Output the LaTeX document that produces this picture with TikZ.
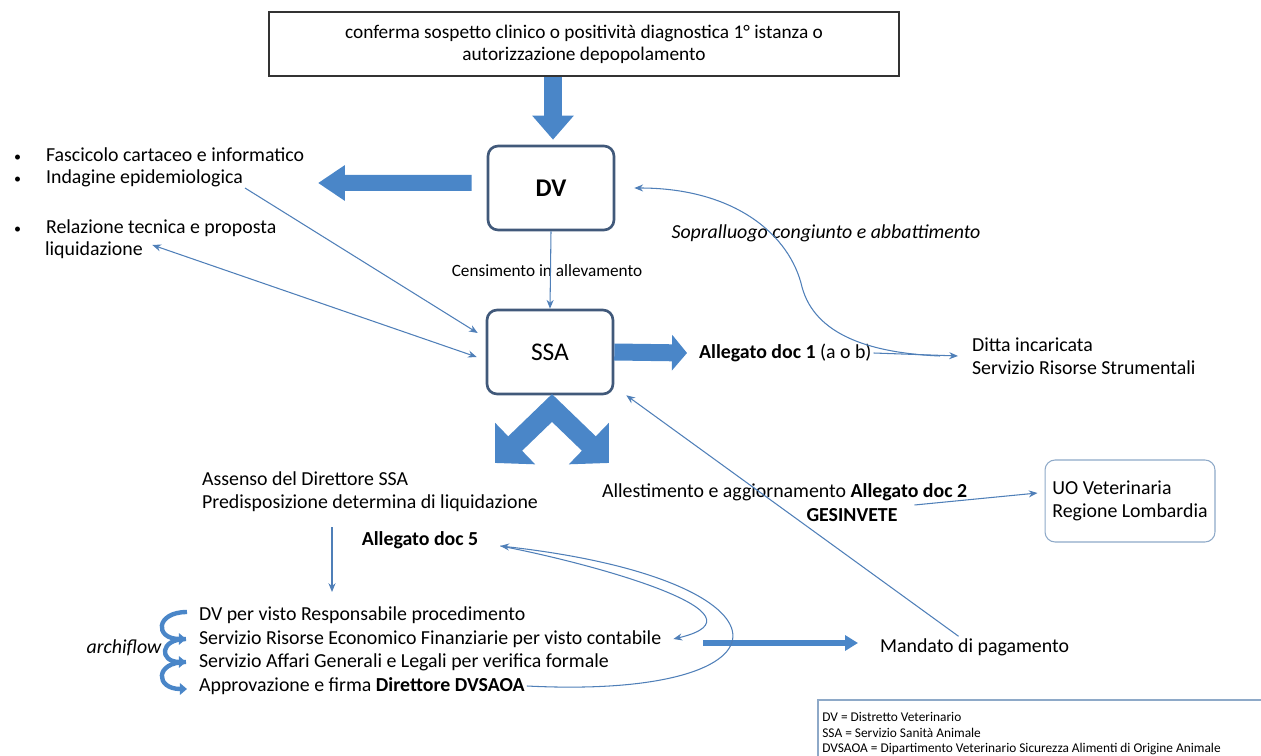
\documentclass[tikz,border=0pt]{standalone}
\usepackage{fontspec}
\setmainfont{Carlito}
\usepackage{xcolor}
\usetikzlibrary{arrows.meta}

\definecolor{flowblue}{HTML}{4A86C8}
\definecolor{linkblue}{HTML}{4F7FB8}
\definecolor{unitedge}{HTML}{41597A}
\definecolor{uoedge}{HTML}{8EA9C8}

\newcommand{\blt}{\makebox[0.64cm][l]{\footnotesize\textbullet}}

\begin{document}
\begin{tikzpicture}[x=0.02cm, y=-0.02cm,
    txt/.style={inner sep=1pt, font=\fontsize{11.3}{13}\selectfont},
    smalltxt/.style={inner sep=1pt, font=\fontsize{9.8}{11}\selectfont},
    legtxt/.style={inner sep=0pt, anchor=west, font=\fontsize{7.6}{8.5}\selectfont},
    unit/.style={draw=unitedge, line width=1.5pt, rounded corners=0.2cm, minimum width=2.52cm, minimum height=1.68cm, font=\fontsize{14.5}{16}\selectfont},
    bigarr/.style={draw=flowblue, line width=0.36cm, -{Triangle[length=0.48cm,width=0.8cm]}},
    diagarr/.style={draw=flowblue, line width=0.4cm, line join=miter, {Triangle[length=0.56cm,width=1.12cm]}-{Triangle[length=0.56cm,width=1.12cm]}},
    curl/.style={draw=flowblue, line width=2.5pt, -{Triangle[length=4pt,width=6.5pt]}},
    >={Stealth[length=5pt,width=4pt]},
    link/.style={draw=linkblue, line width=0.6pt}]
    \useasboundingbox (0,0) rectangle (1261,756);

    % Start and district
    \node (conf) [draw=black!80, line width=0.8pt, minimum width=12.6cm, minimum height=1.28cm, align=center, font=\fontsize{11}{12.5}\selectfont] at (584,44) {conferma sospetto clinico o positività diagnostica 1° istanza o\\autorizzazione depopolamento};
    \node (dv) [unit] at (551,188) {\textbf{DV}};
    \node (fasc) [txt, anchor=west] at (12,155) {\blt Fascicolo cartaceo e informatico};
    \node (indag) [txt, anchor=west] at (12,178) {\blt Indagine epidemiologica};
    \node (rel) [txt, anchor=west] at (12,228) {\blt Relazione tecnica e proposta};
    \node (liq) [txt, anchor=west] at (43,250) {liquidazione};
    \node (cens) [smalltxt] at (547,271) {Censimento in allevamento};
    \node (sopr) [txt, font=\fontsize{11.3}{13}\selectfont\itshape] at (826,233) {Sopralluogo congiunto e abbattimento};

    % Animal health service
    \node (ssa) [unit] at (550,352) {SSA};
    \node (doc1) [txt, anchor=west] at (697,353) {\textbf{Allegato doc 1} (a o b)};
    \node (ditta) [txt, anchor=west, align=left] at (970,356) {Ditta incaricata\\Servizio Risorse Strumentali};
    \node (assenso) [txt, anchor=west, align=left] at (200,492) {Assenso del Direttore SSA\\Predisposizione determina di liquidazione};
    \node (doc5) [txt] at (420,540) {\textbf{Allegato doc 5}};
    \node (allest) [txt, anchor=west] at (600,492) {Allestimento e aggiornamento \textbf{Allegato doc 2}};
    \node (gesin) [txt] at (852,515) {\textbf{GESINVETE}};
    \node (uo) [draw=uoedge, line width=0.6pt, rounded corners=0.2cm, minimum width=3.4cm, minimum height=1.64cm, align=left, font=\fontsize{11.3}{13}\selectfont] at (1130,501) {UO Veterinaria\\Regione Lombardia};

    % Archiflow
    \node (l1) [txt, anchor=west] at (197,615) {DV per visto Responsabile procedimento};
    \node (l2) [txt, anchor=west] at (197,639) {Servizio Risorse Economico Finanziarie per visto contabile};
    \node (l3) [txt, anchor=west] at (197,662) {Servizio Affari Generali e Legali per verifica formale};
    \node (l4) [txt, anchor=west] at (197,686) {Approvazione e firma \textbf{Direttore DVSAOA}};
    \node (archi) [txt, font=\fontsize{11.3}{13}\selectfont\itshape] at (124,648) {archiflow};
    \node (mand) [txt, anchor=west] at (878,647) {Mandato di pagamento};

    % Legend
    \draw[draw=uoedge, line width=0.6pt] (818,756) -- (818,700) -- (1261,700);
    \node (lg1) [legtxt] at (822,717) {DV = Distretto Veterinario};
    \node (lg2) [legtxt] at (822,733) {SSA = Servizio Sanità Animale};
    \node (lg3) [legtxt] at (822,749) {DVSAOA = Dipartimento Veterinario Sicurezza Alimenti di Origine Animale};

    % Block arrows
    \coordinate (leftend) at (318,183);
    \coordinate (apex) at (552,408);
    \coordinate (tipl) at (495,463);
    \coordinate (tipr) at (609,463);
    \draw[bigarr] ([xshift=0.04cm]dv.north |- conf.south) -- ([xshift=0.04cm,yshift=0.1cm]dv.north);
    \draw[bigarr, line width=0.32cm, -{Triangle[length=0.54cm,width=0.68cm]}] ([xshift=-0.3cm,yshift=0.1cm]dv.west) -- (leftend);
    \draw[bigarr, line width=0.34cm, -{Triangle[length=0.3cm,width=0.7cm]}] (ssa.east) -- ([xshift=-0.2cm]doc1.west);
    \draw[diagarr] (tipl) -- (apex) -- (tipr);
    \draw[bigarr, line width=0.14cm, -{Triangle[length=0.26cm,width=0.3cm]}] ([xshift=0.8cm,yshift=-0.08cm]l2.east) -- ([xshift=-0.4cm,yshift=-0.08cm]mand.west |- l2.east);

    % Archiflow curls
    \draw[curl] ([xshift=-0.2cm,yshift=0.06cm]l1.west) to[out=180, in=180, looseness=3] ([xshift=-0.22cm]l2.west);
    \draw[curl] ([xshift=-0.22cm]l2.west) to[out=180, in=180, looseness=3] ([xshift=-0.22cm]l3.west);
    \draw[curl] ([xshift=-0.22cm]l3.west) to[out=180, in=180, looseness=3] ([xshift=-0.2cm,yshift=-0.06cm]l4.west);

    % Thin arrows
    \draw[link, ->] (dv.south) -- (ssa.north);
    \draw[link, ->] ([yshift=-0.2cm]indag.east) -- ([xshift=-0.16cm,yshift=0.38cm]ssa.west);
    \draw[link, <->] ([xshift=0.15cm,yshift=0.1cm]liq.east) -- ([xshift=-0.18cm,yshift=-0.1cm]ssa.west);
    \draw[link, ->] (doc1.east) -- ([xshift=-0.24cm]ditta.west);
    \draw[link, ->] ([xshift=-0.6cm]ditta.west) .. controls (870,353) and (815,335) .. (802,287) .. controls (790,235) and (735,188) .. ([xshift=0.38cm]dv.east);
    \draw[link, ->] ([xshift=0.3cm,yshift=0.2cm]gesin.east) -- ([xshift=-0.14cm,yshift=0.16cm]uo.west);
    \draw[link, ->] ([xshift=-0.32cm]mand.north) -- ([xshift=0.24cm]ssa.south east);
    \coordinate (down5) at (332,592);
    \draw[link, ->, shorten <=0.26cm] (assenso.south -| down5) -- (down5);
    \draw[link, ->] (l4.east) .. controls (805,700) and (805,580) .. ([xshift=0.4cm,yshift=-0.12cm]doc5.east);
    \draw[link, ->] ([xshift=0.4cm,yshift=-0.12cm]doc5.east) .. controls (600,565) and (775,615) .. ([xshift=0.2cm]l2.east);
\end{tikzpicture}
\end{document}
